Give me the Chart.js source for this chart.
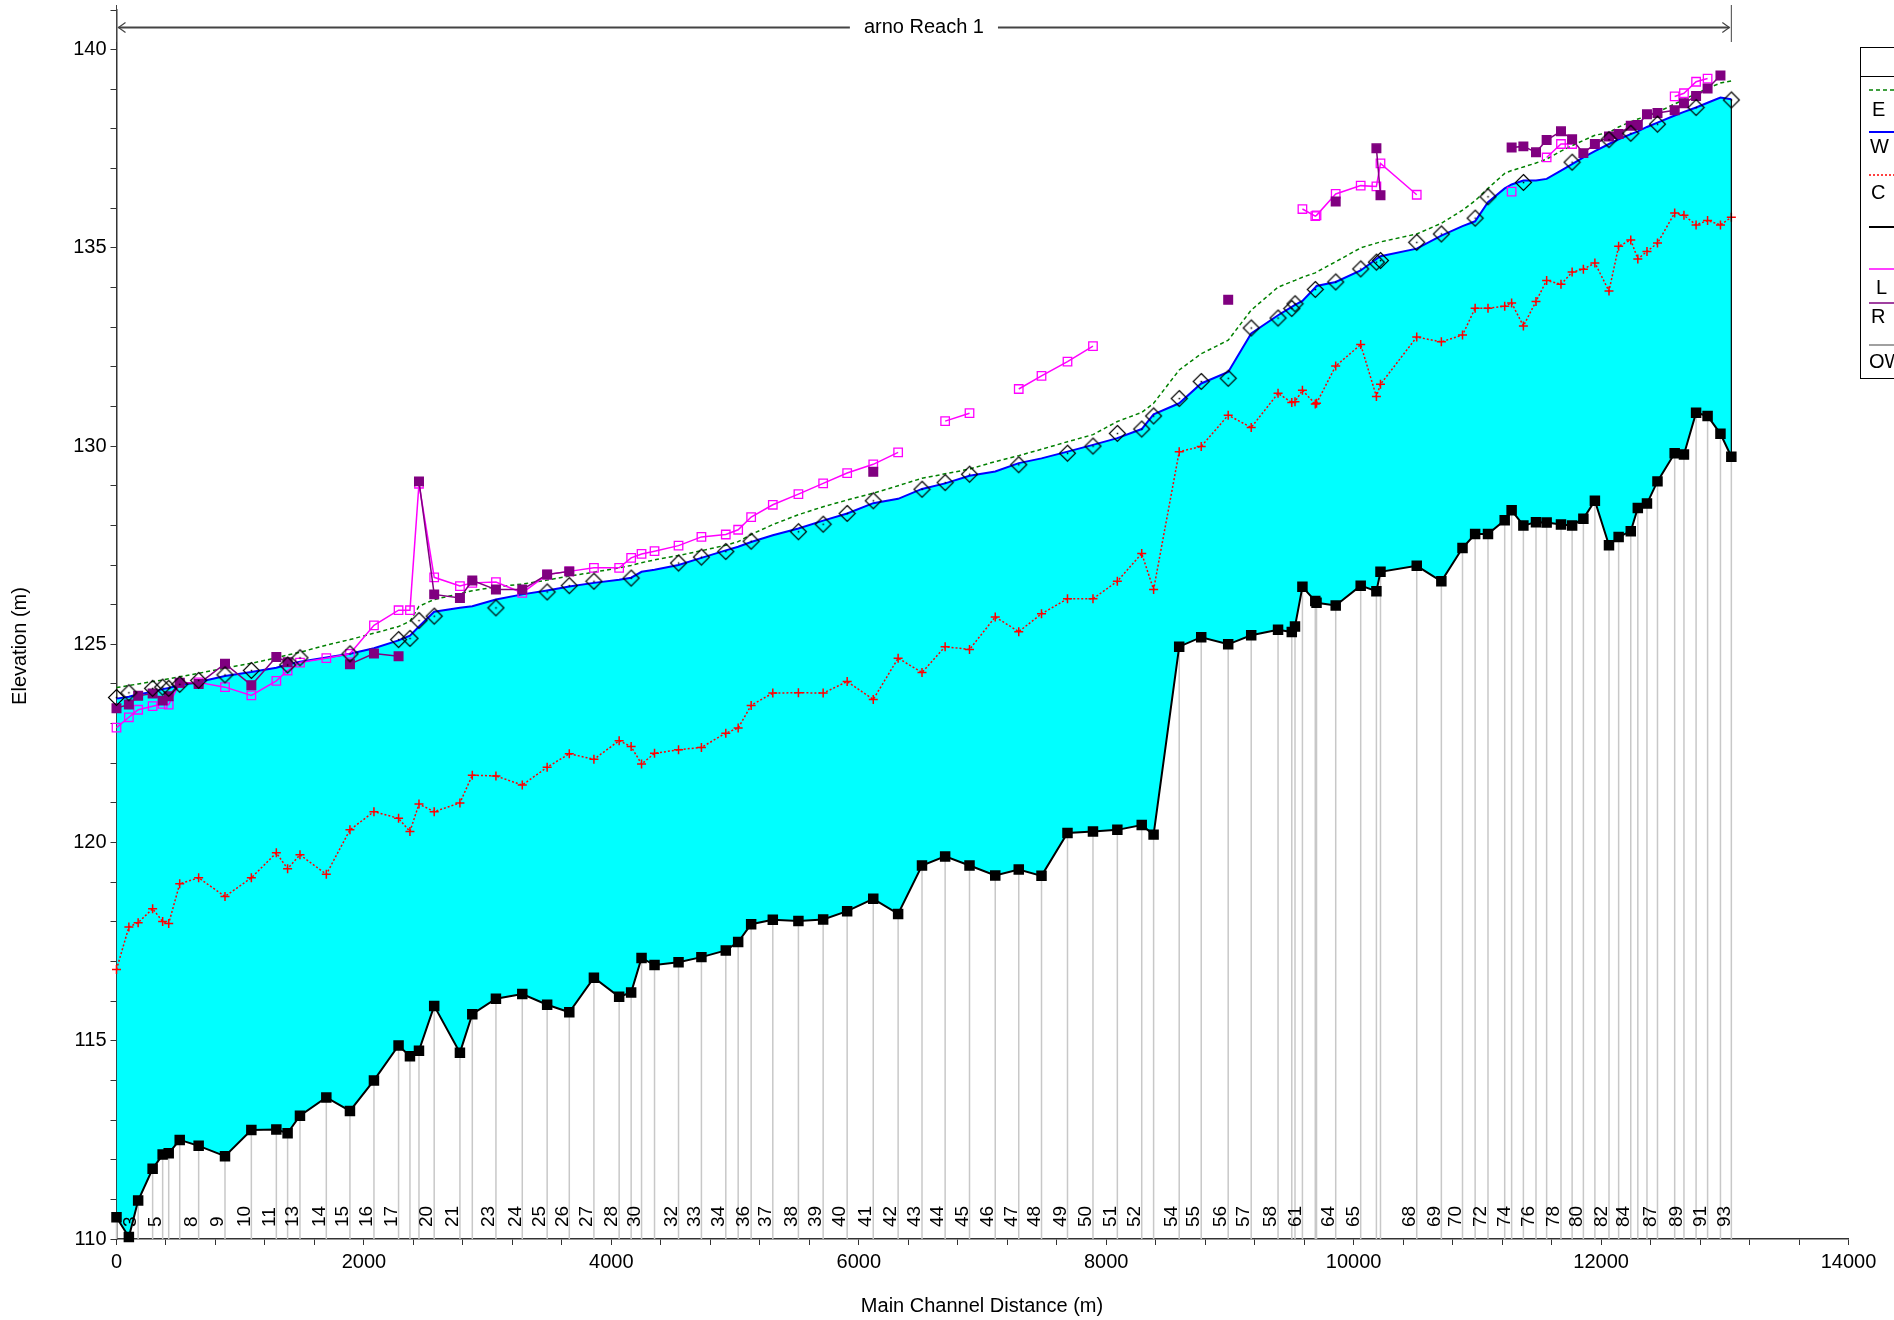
<!DOCTYPE html>
<html>
<head>
<meta charset="utf-8">
<script src="https://cdn.jsdelivr.net/npm/chart.js@4.4.1/dist/chart.umd.min.js"></script>
<style>
html,body{margin:0;padding:0;background:#fff;}
#wrap{width:1894px;height:1320px;position:relative;}
</style>
</head>
<body>
<div id="wrap"><canvas id="ctx"></canvas></div>
<script>

// cross section positions (main channel distance, m)
var stations = [0,100,175,292,373,422,511,664,877,1090,
1292,1383,1483,1696,1887,2081,2280,2372,2445,2568,
2776,2876,3067,3280,3481,3660,3859,4063,4160,4244,
4349,4543,4728,4925,5025,5130,5305,5512,5712,5906,
6117,6318,6511,6698,6895,7103,7293,7477,7687,7893,
8090,8287,8383,8590,8768,8986,9172,9389,9500,9526,
9586,9690,9700,9855,10057,10184,10217,10510,10709,10880,
10982,11086,11221,11277,11372,11474,11560,11676,11766,11857,
11950,12064,12142,12240,12297,12371,12456,12595,12670,12768,
12861,12965,13053];

var groundElev = [110.55,110.05,110.97,111.77,112.13,112.16,112.50,112.35,112.09,112.75,
112.76,112.67,113.11,113.57,113.23,114.00,114.88,114.61,114.75,115.88,
114.70,115.67,116.06,116.18,115.91,115.72,116.59,116.11,116.22,117.09,
116.91,116.98,117.11,117.28,117.49,117.94,118.05,118.02,118.06,118.27,
118.58,118.20,119.42,119.65,119.42,119.17,119.32,119.16,120.24,120.28,
120.32,120.44,120.20,124.94,125.18,125.00,125.23,125.37,125.31,125.45,
126.45,126.09,126.05,125.98,126.48,126.34,126.83,126.98,126.59,127.43,
127.78,127.78,128.13,128.38,128.00,128.08,128.07,128.02,128.00,128.17,
128.62,127.50,127.71,127.85,128.44,128.55,129.11,129.82,129.79,130.84,
130.76,130.31,129.73];

var wsElev = [123.63,123.68,123.74,123.80,123.87,123.90,123.97,124.05,124.20,124.30,
124.41,124.49,124.56,124.67,124.76,124.90,125.10,125.22,125.45,125.82,
125.92,125.96,126.13,126.26,126.36,126.46,126.55,126.63,126.68,126.83,
126.88,127.00,127.18,127.37,127.46,127.58,127.75,127.92,128.12,128.30,
128.56,128.67,128.92,129.06,129.25,129.36,129.57,129.69,129.86,130.03,
130.20,130.43,130.80,131.08,131.58,131.87,132.84,133.30,133.51,133.56,
133.66,134.00,134.04,134.14,134.43,134.72,134.79,134.98,135.31,135.55,
135.67,136.15,136.50,136.60,136.70,136.70,136.74,136.95,137.11,137.28,
137.44,137.62,137.74,137.87,137.94,138.05,138.16,138.34,138.43,138.54,
138.66,138.79,138.75];

var egElev = [123.91,123.96,124.00,124.06,124.10,124.13,124.18,124.27,124.40,124.52,
124.66,124.73,124.80,124.98,125.12,125.28,125.45,125.58,125.96,126.13,
126.28,126.35,126.45,126.52,126.62,126.72,126.82,126.93,126.99,127.06,
127.13,127.24,127.36,127.50,127.59,127.77,128.02,128.27,128.47,128.64,
128.81,129.00,129.19,129.30,129.42,129.61,129.76,129.92,130.11,130.29,
130.62,130.85,131.08,131.92,132.33,132.67,133.43,134.01,134.15,134.18,
134.26,134.37,134.39,134.65,135.00,135.12,135.15,135.35,135.62,135.95,
136.19,136.50,136.88,136.95,137.04,137.14,137.24,137.44,137.58,137.71,
137.84,137.91,138.05,138.18,138.25,138.32,138.42,138.63,138.74,138.89,
139.02,139.16,139.21];

var critElev = [116.80,117.87,117.98,118.33,118.01,117.96,118.96,119.11,118.64,119.11,
119.74,119.34,119.69,119.20,120.32,120.78,120.61,120.28,120.97,120.78,
121.00,121.70,121.68,121.45,121.90,122.24,122.10,122.57,122.42,121.98,
122.25,122.34,122.40,122.76,122.89,123.46,123.77,123.78,123.77,124.06,
123.61,124.65,124.29,124.94,124.87,125.69,125.32,125.77,126.15,126.15,
126.59,127.29,126.38,129.86,129.99,130.78,130.47,131.33,131.10,131.12,
131.41,131.06,131.08,132.02,132.56,131.25,131.56,132.75,132.63,132.80,
133.48,133.48,133.53,133.61,133.03,133.65,134.18,134.08,134.39,134.46,
134.62,133.91,135.04,135.20,134.72,134.91,135.12,135.88,135.82,135.58,
135.69,135.58,135.77];

// observed water surface (diamonds), null where none
var owsElev = [123.66,123.78,null,123.89,123.92,123.89,123.99,124.09,124.23,124.34,
null,124.48,124.66,null,124.76,null,125.12,125.15,125.60,125.71,
null,null,125.92,null,126.32,126.48,126.59,null,126.67,null,
null,127.05,127.20,127.34,null,127.60,null,127.84,128.03,128.30,
128.62,null,128.91,129.08,129.29,null,129.53,null,129.82,130.00,
130.32,130.43,130.76,131.20,131.63,131.71,132.98,133.23,133.47,133.59,
null,133.95,null,134.14,134.47,134.64,134.68,135.14,135.35,null,
135.75,136.29,null,null,136.65,null,null,null,137.16,null,
null,137.73,null,137.89,null,null,138.12,null,null,138.54,
null,null,138.73];

var leftLevee = [122.90,123.16,123.35,123.44,123.50,123.48,124.02,124.04,123.92,123.71,
124.08,124.34,124.54,124.65,124.76,125.48,125.86,125.86,129.05,126.69,
126.47,126.55,126.57,126.30,126.76,126.84,126.93,126.93,127.18,127.28,
127.35,127.49,127.71,127.77,127.89,128.21,128.52,128.79,129.06,129.32,
129.54,129.84,null,130.63,130.83,null,131.44,131.77,132.13,132.52,
null,null,null,null,null,null,null,null,null,null,
135.98,135.80,135.82,136.36,136.57,136.55,137.13,136.34,null,null,
null,null,null,136.42,null,null,137.28,137.62,137.62,null,
null,null,null,null,null,null,null,138.82,138.90,139.19,
139.27,null,null];

var rightLevee = [123.39,123.48,123.70,123.76,123.58,123.69,124.03,124.00,124.51,123.97,
124.68,124.55,null,null,124.50,124.77,124.70,null,129.11,126.26,
126.17,126.61,126.38,126.38,126.76,126.84,null,null,null,null,
null,null,null,null,null,null,null,null,null,null,
129.35,null,null,null,null,null,null,null,null,null,
null,null,null,null,null,133.69,null,null,null,null,
null,null,null,136.17,null,137.51,136.33,null,null,null,
null,null,null,137.53,137.56,137.41,137.72,137.94,137.74,137.39,
137.62,137.81,137.87,138.08,138.10,138.37,138.40,138.47,138.65,138.83,
139.02,139.35,null];

// cross sections whose number is printed along the bottom
var shownLabels = [3,5,8,9,10,11,13,14,15,16,17,20,21,23,24,25,26,27,28,30,32,33,34,36,37,38,39,40,
41,42,43,44,45,46,47,48,49,50,51,52,54,55,56,57,58,61,64,65,68,69,70,72,74,76,78,80,82,84,87,89,91,93];

var legendNames = ['EG PF 1','WS PF 1','Crit PF 1','Ground','Left Levee','Right Levee','OWS PF 1'];
var reachName = 'arno Reach 1';

var FONT = '"Liberation Sans", Arial, sans-serif';
Chart.defaults.font.family = FONT;
Chart.defaults.font.size = 20;
Chart.defaults.color = '#000';

function pts(arr){
	return stations.map(function(x,i){ return {x:x, y:arr[i]}; });
}

// hollow diamond with a dot in the middle
var dia = document.createElement('canvas');
dia.width = 19; dia.height = 19;
var dc = dia.getContext('2d');
dc.strokeStyle = '#000'; dc.lineWidth = 1.2;
dc.beginPath(); dc.moveTo(9.5,1.5); dc.lineTo(17.5,9.5); dc.lineTo(9.5,17.5); dc.lineTo(1.5,9.5); dc.closePath(); dc.stroke();
dc.fillStyle = '#000'; dc.fillRect(8.8,8.8,1.5,1.5);


var stationPlugin = {
	id: 'stationLines',
	beforeDatasetsDraw: function(chart){
		var c = chart.ctx, xs = chart.scales.x, ys = chart.scales.y, bottom = chart.chartArea.bottom;
		c.save();
		c.strokeStyle = '#c8c8c8'; c.lineWidth = 1.5;
		for (var i = 0; i < stations.length; i++){
			var px = xs.getPixelForValue(stations[i]);
			c.beginPath(); c.moveTo(px, ys.getPixelForValue(groundElev[i])); c.lineTo(px, bottom); c.stroke();
		}
		c.restore();
	},
	afterDatasetsDraw: function(chart){
		var c = chart.ctx, xs = chart.scales.x, ys = chart.scales.y, last = stations.length - 1;
		var bottom = chart.chartArea.bottom;
		c.save();
		// closing line at the upstream end
		var px = xs.getPixelForValue(stations[last]);
		c.strokeStyle = '#000'; c.lineWidth = 1.2;
		c.beginPath(); c.moveTo(px, ys.getPixelForValue(wsElev[last])); c.lineTo(px, ys.getPixelForValue(groundElev[last])); c.stroke();

		// cross section numbers
		c.fillStyle = '#000';
		c.font = '19px ' + FONT;
		c.textAlign = 'left'; c.textBaseline = 'middle';
		shownLabels.forEach(function(n){
			var lx = xs.getPixelForValue(stations[n-1]);
			c.save(); c.translate(lx - 7, bottom - 12); c.rotate(-Math.PI/2);
			c.fillText(String(n), 0, 0);
			c.restore();
		});
		c.restore();
	},
	afterDraw: function(chart){
		var c = chart.ctx, xs = chart.scales.x;
		c.save();

		// reach annotation
		var x0 = xs.getPixelForValue(stations[0]), x1 = xs.getPixelForValue(stations[stations.length-1]);
		var yA = 27.5;
		c.font = '20px ' + FONT;
		var tw = c.measureText(reachName).width, tx = (x0 + x1) / 2;
		c.strokeStyle = '#444'; c.lineWidth = 1;
		c.beginPath(); c.moveTo(x0, 5); c.lineTo(x0, 42); c.moveTo(x1, 5); c.lineTo(x1, 42); c.stroke();
		c.lineWidth = 2;
		c.beginPath();
		c.moveTo(x0 + 2, yA); c.lineTo(tx - tw/2 - 14, yA);
		c.moveTo(tx + tw/2 + 14, yA); c.lineTo(x1 - 2, yA);
		c.stroke();
		c.lineWidth = 1.2;
		c.beginPath();
		c.moveTo(x0 + 9, yA - 5); c.lineTo(x0 + 2, yA); c.lineTo(x0 + 9, yA + 5);
		c.moveTo(x1 - 9, yA - 5); c.lineTo(x1 - 2, yA); c.lineTo(x1 - 9, yA + 5);
		c.stroke();
		c.fillStyle = '#000'; c.textAlign = 'center'; c.textBaseline = 'middle';
		c.fillText(reachName, tx, yA);

		// axis titles
		c.fillText('Main Channel Distance (m)', 982, 1306);
		c.save(); c.translate(20.5, 646); c.rotate(-Math.PI/2); c.fillText('Elevation (m)', 0, 0); c.restore();

		// legend (runs off the right edge)
		c.strokeStyle = '#000'; c.lineWidth = 1;
		c.strokeRect(1860.5, 47.5, 140, 331);
		c.beginPath(); c.moveTo(1860, 76.5); c.lineTo(1894, 76.5); c.stroke();
		var rows = [
			{col:'#008000', w:1.5, dash:[4,3], ly:90,  ty:110, tx:1872, cut:1885},
			{col:'#0000ff', w:2,   dash:[],    ly:132, ty:147, tx:1870, cut:1889},
			{col:'#ff0000', w:1.5, dash:[2,2], ly:175, ty:193, tx:1871, cut:1885},
			{col:'#000000', w:2,   dash:[],    ly:227, ty:null, tx:1871, cut:1885},
			{col:'#ff00ff', w:1.5, dash:[],    ly:269, ty:288, tx:1876, cut:1887},
			{col:'#800080', w:1.5, dash:[],    ly:303, ty:317, tx:1871, cut:1885},
			{col:'#808080', w:1.5, dash:[],    ly:345, ty:362, tx:1869, cut:1894}
		];
		c.font = '20px ' + FONT;
		c.textAlign = 'left';
		rows.forEach(function(r, i){
			c.strokeStyle = r.col; c.lineWidth = r.w; c.setLineDash(r.dash);
			c.beginPath(); c.moveTo(1869, r.ly); c.lineTo(1894, r.ly); c.stroke();
			c.setLineDash([]);
			if (r.ty !== null){
				c.save();
				c.beginPath(); c.rect(1861, r.ty - 16, r.cut - 1861, 32); c.clip();
				c.fillText(legendNames[i], r.tx, r.ty);
				c.restore();
			}
		});
		c.restore();
	}
};


var profileChart = new Chart(document.getElementById('ctx'), {
	type: 'line',
	data: {
		datasets: [{
				label: legendNames[6],
				data: pts(owsElev),
				showLine: false,
				pointStyle: dia,
				pointRadius: 9,
				clip: false
			}, {
				label: legendNames[5],
				data: pts(rightLevee),
				borderColor: '#800080',
				borderWidth: 1.5,
				pointStyle: 'rect',
				pointRadius: 6,
				pointBackgroundColor: '#800080',
				pointBorderColor: '#800080',
				spanGaps: false,
				clip: false
			}, {
				label: legendNames[4],
				data: pts(leftLevee),
				borderColor: '#ff00ff',
				borderWidth: 1.5,
				pointStyle: 'rect',
				pointRadius: 6,
				pointBackgroundColor: 'rgba(0,0,0,0)',
				pointBorderColor: '#ff00ff',
				pointBorderWidth: 1.3,
				spanGaps: false,
				clip: false
			}, {
				label: legendNames[2],
				data: pts(critElev),
				borderColor: '#ff0000',
				borderWidth: 1.5,
				borderDash: [2,2],
				pointStyle: 'cross',
				pointRadius: 4.5,
				pointBorderColor: '#ff0000',
				pointBorderWidth: 1.5,
				clip: false
			}, {
				label: legendNames[0],
				data: pts(egElev),
				borderColor: '#008000',
				borderWidth: 1.5,
				borderDash: [4,3],
				pointRadius: 0,
				clip: false
			}, {
				label: legendNames[1],
				data: pts(wsElev),
				borderColor: '#0000ff',
				borderWidth: 2,
				pointRadius: 0,
				clip: false
			}, {
				label: legendNames[3],
				data: pts(groundElev),
				borderColor: '#000000',
				borderWidth: 2,
				pointStyle: 'rect',
				pointRadius: 6,
				pointBackgroundColor: '#000000',
				pointBorderColor: '#000000',
				fill: {target: 5},
				backgroundColor: '#00ffff',
				clip: false
			}
		]
	},
	options: {
		responsive: true,
		maintainAspectRatio: false,
		animation: false,
		events: [],
		layout: { padding: { left: 0, right: 45.5, top: 7, bottom: 0 } },
		plugins: { legend: { display: false }, tooltip: { enabled: false } },
		elements: { line: { tension: 0 } },
		scales: {
			x: {
				type: 'linear',
				min: 0, max: 14000,
				afterFit: function(s){ s.height = 81; },
				border: { display: true, color: '#333', width: 1.5 },
				grid: { drawOnChartArea: false, drawTicks: true, tickLength: 6, tickColor: '#333' },
				ticks: {
					stepSize: 400, autoSkip: false, maxRotation: 0, padding: 5,
					callback: function(v){ return v % 2000 === 0 ? String(v) : ''; }
				}
			},
			y: {
				type: 'linear',
				min: 110, max: 141,
				afterFit: function(s){ s.width = 116.5; s.paddingTop = 0; s.paddingBottom = 0; },
				border: { display: true, color: '#333', width: 1.5 },
				grid: { drawOnChartArea: false, drawTicks: true, tickLength: 6, tickColor: '#333' },
				ticks: {
					stepSize: 1, autoSkip: false, padding: 4,
					callback: function(v){ return v % 5 === 0 ? String(v) : ''; }
				}
			}
		}
	},
	plugins: [stationPlugin]
});

</script>
</body>
</html>
